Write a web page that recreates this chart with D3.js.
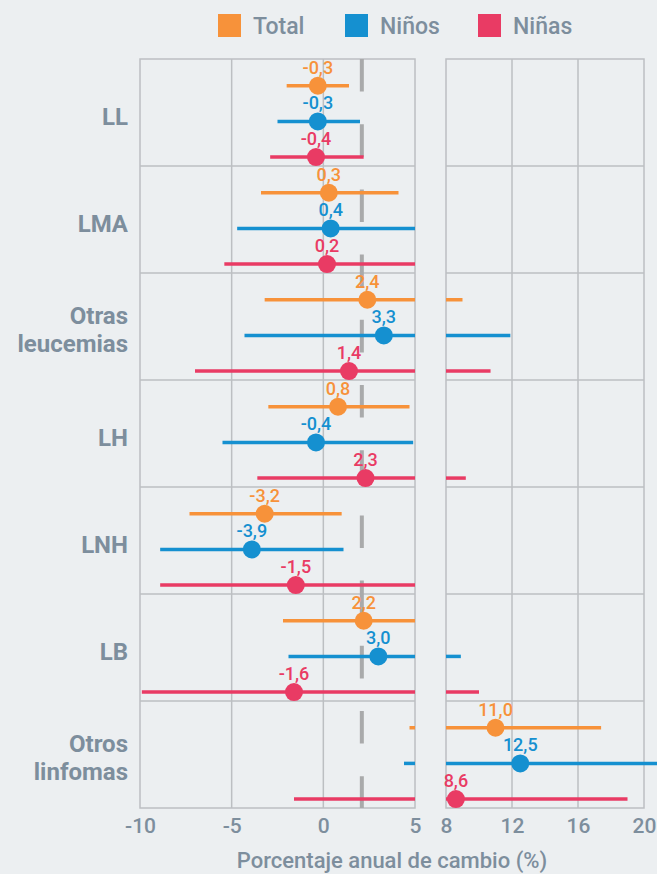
<!DOCTYPE html>
<html>
<head>
<meta charset="utf-8">
<script src="https://cdn.jsdelivr.net/npm/d3@7"></script>
<style>
  html, body { margin: 0; padding: 0; background: #eceff1; }
  svg { display: block; font-family: Roboto, "Noto Sans", sans-serif; }
</style>
</head>
<body>
<div id="container"></div>
<script>
const WIDTH = 657;
const HEIGHT = 874;
const TOP = 59;
const BOTTOM = 808;

const categories = ['LL', 'LMA', 'Otras leucemias', 'LH', 'LNH', 'LB', 'Otros linfomas'];
const seriesNames = ['Total', 'Niños', 'Niñas'];
const seriesColors = ['#f7923a', '#1590d0', '#e93b64'];

// APC and 95% CI per category, one set of arrays per series
const apcTotal = [-0.3, 0.3, 2.4, 0.8, -3.2, 2.2, 11.0];
const lowTotal = [-2.0, -3.4, -3.2, -3.0, -7.3, -2.2, 4.7];
const highTotal = [1.4, 4.1, 9.0, 4.7, 1.0, 6.5, 17.4];

const apcNinos = [-0.3, 0.4, 3.3, -0.4, -3.9, 3.0, 12.5];
const lowNinos = [-2.5, -4.7, -4.3, -5.5, -8.9, -1.9, 4.4];
const highNinos = [2.0, 6.5, 11.9, 4.9, 1.1, 8.9, 22.0];

const apcNinas = [-0.4, 0.2, 1.4, 2.3, -1.5, -1.6, 8.6];
const lowNinas = [-2.9, -5.4, -7.0, -3.6, -8.9, -9.9, -1.6];
const highNinas = [2.2, 6.5, 10.7, 9.2, 6.5, 10.0, 19.0];

const referenceApc = 2.1;
const leftTicks = [-10, -5, 0, 5];
const rightTicks = [8, 12, 16, 20];

const seriesData = [
  { name: seriesNames[0], color: seriesColors[0], apc: apcTotal, low: lowTotal, high: highTotal },
  { name: seriesNames[1], color: seriesColors[1], apc: apcNinos, low: lowNinos, high: highNinos },
  { name: seriesNames[2], color: seriesColors[2], apc: apcNinas, low: lowNinas, high: highNinas }
];

const rows = [];
seriesData.forEach(s => {
  categories.forEach((c, i) => {
    rows.push({ cat: c, series: s.name, color: s.color, apc: s.apc[i], low: s.low[i], high: s.high[i] });
  });
});

const svg = d3.select('#container').append('svg')
    .attr('width', WIDTH)
    .attr('height', HEIGHT);

// Scales
const xL = d3.scaleLinear().domain([-10, 5]).range([140, 415]);
const xR = d3.scaleLinear().domain([8, 20]).range([446, 644]);
const y = d3.scaleBand().domain(categories).range([TOP, BOTTOM]);
const sub = d3.scaleBand().domain(seriesNames).range([0, y.bandwidth()]);
const rowY = d => y(d.cat) + sub(d.series) + sub.bandwidth() * 0.75;

const GRID = '#bcbfc2';
const TEXT = '#7d8e9d';

// Grids
const grid = svg.append('g').attr('class', 'grid');
[[xL, [-5, 0]], [xR, [12, 16]]].forEach(([sc, inner]) => {
  const [a, b] = sc.range();
  grid.append('rect')
      .attr('x', a).attr('y', TOP)
      .attr('width', b - a).attr('height', BOTTOM - TOP)
      .attr('fill', 'none').attr('stroke', GRID).attr('stroke-width', 1.5);
  grid.selectAll(null).data(inner).join('line')
      .attr('x1', d => sc(d)).attr('x2', d => sc(d))
      .attr('y1', TOP).attr('y2', BOTTOM)
      .attr('stroke', GRID).attr('stroke-width', 1.5);
  grid.selectAll(null).data(categories.slice(1)).join('line')
      .attr('x1', a).attr('x2', b)
      .attr('y1', d => y(d)).attr('y2', d => y(d))
      .attr('stroke', GRID).attr('stroke-width', 1.5);
});

// Reference dashed line
svg.append('line')
    .attr('x1', xL(referenceApc)).attr('x2', xL(referenceApc))
    .attr('y1', TOP).attr('y2', BOTTOM)
    .attr('stroke', '#a9aaab').attr('stroke-width', 4)
    .attr('stroke-dasharray', '32.6,32.6');

// Confidence intervals, split over the two panels
const ci = svg.append('g').attr('class', 'ci');
rows.forEach(d => {
  if (d.low < 5) {
    ci.append('line')
        .attr('x1', xL(Math.max(d.low, -10))).attr('x2', xL(Math.min(d.high, 5)))
        .attr('y1', rowY(d)).attr('y2', rowY(d))
        .attr('stroke', d.color).attr('stroke-width', 3.5);
  }
  if (d.high > 8) {
    ci.append('line')
        .attr('x1', xR(Math.max(d.low, 8))).attr('x2', xR(d.high))
        .attr('y1', rowY(d)).attr('y2', rowY(d))
        .attr('stroke', d.color).attr('stroke-width', 3.5);
  }
});

// Points and value labels
const px = d => d.apc > 5 ? xR(d.apc) : xL(d.apc);
const fmt = v => d3.format('.1f')(v).replace('.', ',').replace('−', '-');
svg.append('g').selectAll('circle').data(rows).join('circle')
    .attr('cx', px).attr('cy', rowY)
    .attr('r', 9)
    .attr('fill', d => d.color);
svg.append('g').selectAll('text').data(rows).join('text')
    .attr('x', px).attr('y', d => rowY(d) - 12)
    .attr('text-anchor', 'middle')
    .attr('font-size', 18).attr('font-weight', 500)
    .attr('fill', d => d.color)
    .text(d => fmt(d.apc));

// Category labels
const catG = svg.append('g').selectAll('text').data(categories).join('text')
    .attr('x', 128)
    .attr('text-anchor', 'end')
    .attr('font-size', 24).attr('font-weight', 700)
    .attr('fill', TEXT);
catG.each(function(d) {
  const words = d.split(' ');
  const mid = y(d) + y.bandwidth() / 2;
  const el = d3.select(this);
  if (words.length === 1) {
    el.attr('y', mid + 12).text(d);
  } else {
    words.forEach((w, k) => {
      el.append('tspan').attr('x', 128).attr('y', mid - 3 + k * 28.5).text(w);
    });
  }
});

// Axes
[[xL, leftTicks], [xR, rightTicks]].forEach(([sc, ticks]) => {
  const g = svg.append('g')
      .attr('transform', 'translate(0,' + BOTTOM + ')')
      .call(d3.axisBottom(sc).tickValues(ticks).tickSize(0).tickPadding(10).tickFormat(d3.format('d')));
  g.select('.domain').remove();
  g.selectAll('text')
      .attr('font-size', 21).attr('font-weight', 500)
      .attr('font-family', 'Roboto, sans-serif')
      .attr('fill', TEXT)
      .text(d => String(d).replace('−', '-'));
});

svg.append('text')
    .attr('x', 392).attr('y', 868)
    .attr('text-anchor', 'middle')
    .attr('font-size', 22).attr('font-weight', 500)
    .attr('fill', TEXT)
    .text('Porcentaje anual de cambio (%)');

// Legend
const legendX = [218, 345, 478];
const legend = svg.append('g').selectAll('g').data(seriesData).join('g')
    .attr('transform', (d, i) => 'translate(' + legendX[i] + ',14)');
legend.append('rect')
    .attr('width', 23).attr('height', 23)
    .attr('fill', d => d.color);
legend.append('text')
    .attr('x', 35).attr('y', 20)
    .attr('font-size', 23).attr('font-weight', 500)
    .attr('fill', TEXT)
    .text(d => d.name);
</script>
</body>
</html>
